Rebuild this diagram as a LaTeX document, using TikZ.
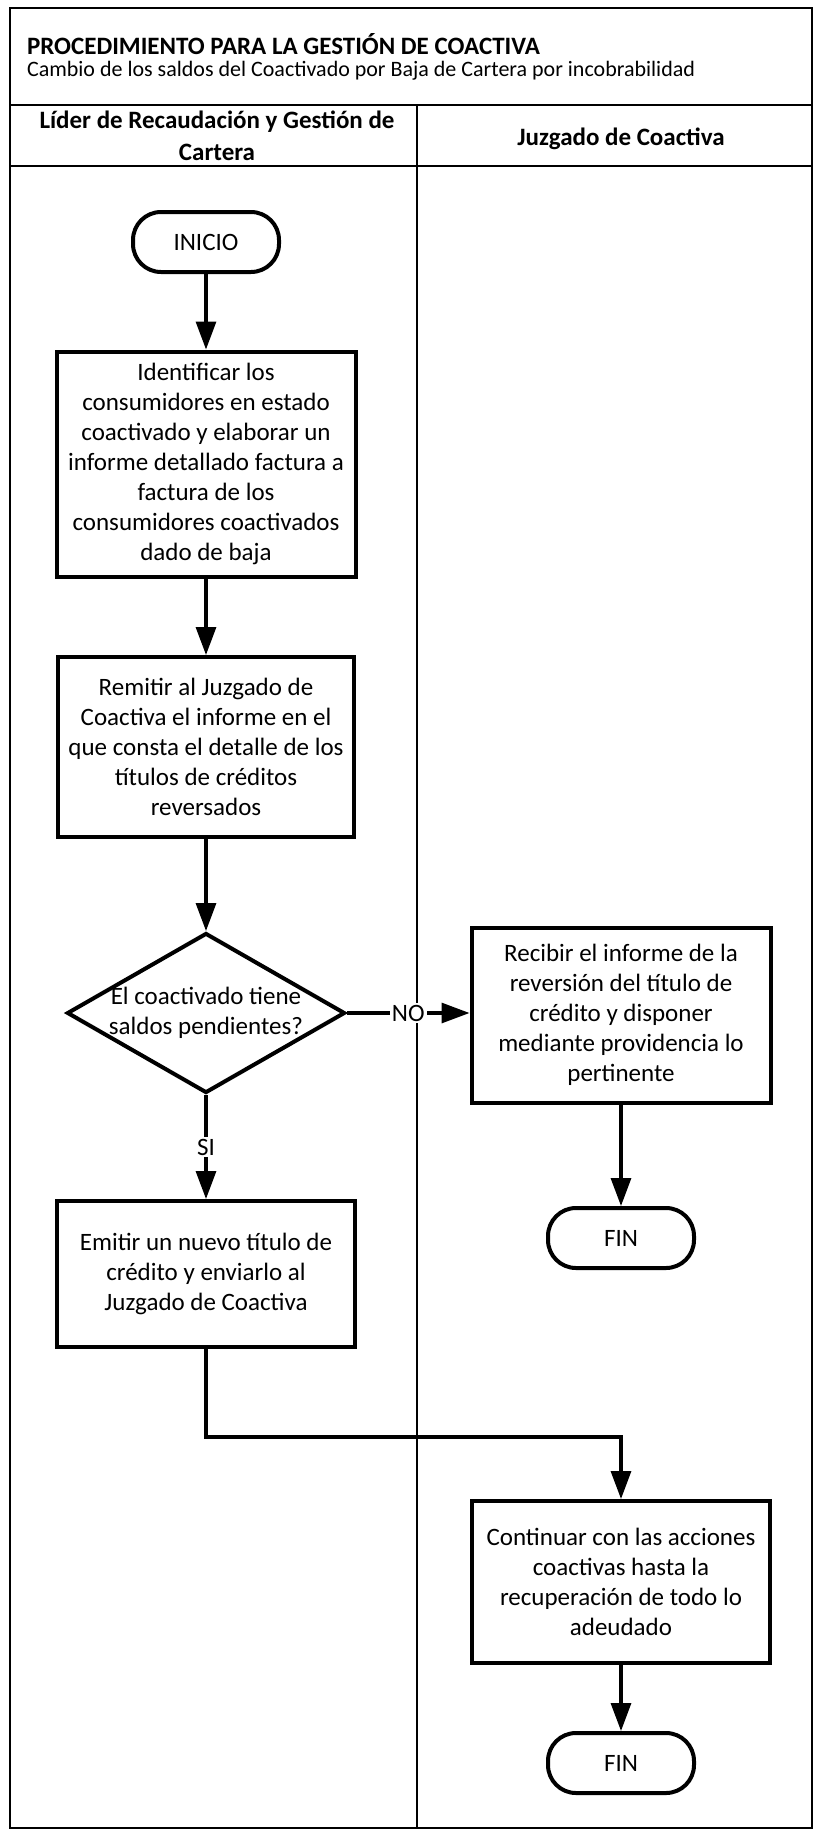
\documentclass[tikz,border=0pt]{standalone}
\usepackage{fontspec}
\setmainfont{Carlito}
\usepackage{tikz}
\usetikzlibrary{arrows.meta,shapes}
\tikzstyle{lane}=[draw, line width=1pt]
\tikzstyle{process}=[draw, rectangle, line width=2pt, align=center, inner sep=2pt, font=\fontsize{12.5}{15}\selectfont]
\tikzstyle{terminal}=[draw, rectangle, rounded corners=14pt, line width=2pt, minimum width=73pt, minimum height=30pt, font=\fontsize{12.5}{15}\selectfont]
\tikzstyle{decision}=[draw, diamond, line width=2pt, minimum width=139pt, minimum height=80pt, inner sep=0pt]
\tikzstyle{flow}=[draw, line width=1.6pt, -{Triangle[length=14pt,width=10pt]}]
\tikzstyle{tag}=[fill=white, inner sep=1pt, font=\fontsize{12.5}{14}\selectfont]
\tikzstyle{header}=[align=center, font=\fontsize{12.5}{16}\selectfont\bfseries]

\begin{document}
\begin{tikzpicture}[x=0.5pt,y=-0.5pt]
\useasboundingbox (0,0) rectangle (814,1831);
% First the frame and the two lanes
\draw[lane] (10,8) rectangle (812,1828);
\draw[lane] (10,105) -- (812,105);
\draw[lane] (10,166) -- (812,166);
\draw[lane] (417,105) -- (417,1828);

\node[anchor=west, font=\fontsize{12.5}{14}\selectfont\bfseries] (title) at (20,44) {PROCEDIMIENTO PARA LA GESTIÓN DE COACTIVA};
\node[anchor=west, font=\fontsize{11}{13}\selectfont] (subtitle) at (20,71) {Cambio de los saldos del Coactivado por Baja de Cartera por incobrabilidad};
\node[header] (lider) at (217,136) {Líder de Recaudación y Gestión de\\Cartera};
\node[header] (juzgado) at (621,139) {Juzgado de Coactiva};

% Then the steps
\node[terminal] (ini) at (206,242) {INICIO};
\node[process, minimum width=149.5pt, minimum height=112.5pt] (ident) at (206,464) {Identificar los\\consumidores en estado\\coactivado y elaborar un\\informe detallado factura a\\factura de los\\consumidores coactivados\\dado de baja};
\node[process, minimum width=148pt, minimum height=90pt] (remitir) at (206,747) {Remitir al Juzgado de\\Coactiva el informe en el\\que consta el detalle de los\\títulos de créditos\\reversados};
\node[decision] (dec) at (206,1013) {};
\node[align=center, font=\fontsize{12.5}{15}\selectfont] (dectxt) at (206,1013) {El coactivado tiene\\saldos pendientes?};
\node[process, minimum width=149pt, minimum height=73pt] (emitir) at (206,1274) {Emitir un nuevo título de\\crédito y enviarlo al\\Juzgado de Coactiva};
\node[process, minimum width=149.5pt, minimum height=87.5pt] (recibir) at (621,1015) {Recibir el informe de la\\reversión del título de\\crédito y disponer\\mediante providencia lo\\pertinente};
\node[terminal] (fin1) at (621,1238) {FIN};
\node[process, minimum width=149pt, minimum height=81pt] (continuar) at (621,1582) {Continuar con las acciones\\coactivas hasta la\\recuperación de todo lo\\adeudado};
\node[terminal] (fin2) at (621,1763) {FIN};
\coordinate (bend) at (206,1437);

% Connect the steps
\foreach \source/\dest in {
	ini/ident,
	ident/remitir,
	remitir/dec,
	recibir/fin1,
	continuar/fin2}
\path[flow] (\source) -- (\dest);
\path[flow] (dec.east) -- node[tag] {NO} (recibir.west |- dec.east);
\path[flow] (dec.south) -- node[tag] {SI} (emitir.north);
\path[flow] (emitir.south) -- (bend) -| (continuar.north);

\end{tikzpicture}
\end{document}
